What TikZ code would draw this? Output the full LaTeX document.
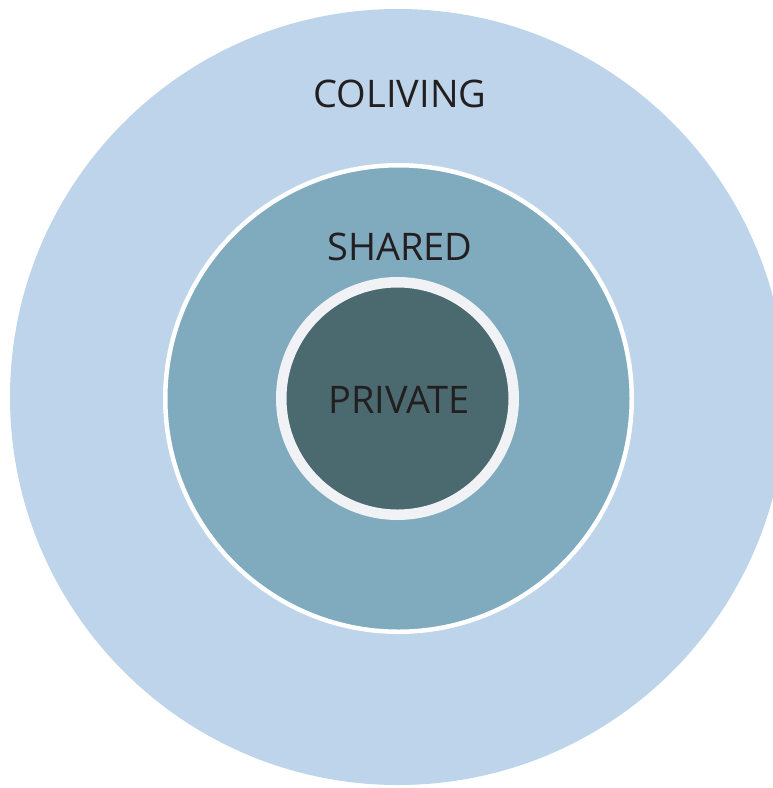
\documentclass[tikz,border=0pt]{standalone}
\usepackage{fontspec}
\setmainfont{Open Sans}
\definecolor{outerblue}{HTML}{BDD4EA}
\definecolor{midblue}{HTML}{80AABE}
\definecolor{innerteal}{HTML}{4A6A70}
\definecolor{ringgrey}{HTML}{F1F2F5}
\definecolor{labeltext}{HTML}{231F20}
\tikzset{
  disc/.style={circle, inner sep=0pt, outer sep=0pt},
  lbl/.style={font=\fontsize{38}{40}\selectfont, text=labeltext, inner sep=0pt}
}
\begin{document}
\begin{tikzpicture}[x=1pt,y=-1pt]
\useasboundingbox (0,0) rectangle (773,788);
\clip (0,0) rectangle (773,788);
\node[disc, fill=outerblue, minimum size=776pt] (coliving) at (398,397) {};
\node[disc, fill=midblue, draw=white, line width=4.5pt, minimum size=466.5pt] (shared) at (398.5,398.5) {};
\node[disc, fill=innerteal, draw=ringgrey, line width=10.5pt, minimum size=232.5pt] (private) at (397.5,398.5) {};
\node[lbl] (tcoliving) at (400,94) {COLIVING};
\node[lbl] (tshared) at (400,247) {SHARED};
\node[lbl] (tprivate) at (399,400) {PRIVATE};
\end{tikzpicture}
\end{document}
